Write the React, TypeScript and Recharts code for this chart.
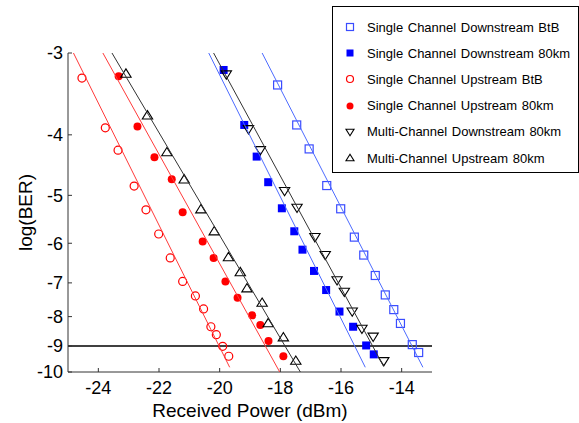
import React from 'react';
import {
  ScatterChart,
  Scatter,
  XAxis,
  YAxis,
  ReferenceLine,
  Legend,
  Label,
} from 'recharts';

// ---------------- data (log10 BER vs received power in dBm) ----------------
const scDownBtbX = [-18.09, -17.46, -17.05, -16.47, -16.01, -15.56, -15.25, -14.87, -14.54, -14.26, -14.04, -13.65, -13.44];
const scDownBtbY = [-3.35, -3.86, -4.21, -4.82, -5.26, -5.86, -6.28, -6.8, -7.34, -7.78, -8.22, -8.95, -9.24];

const scDown80X = [-19.87, -19.19, -18.78, -18.4, -17.95, -17.54, -17.27, -16.89, -16.49, -16.05, -15.6, -15.17, -14.92];
const scDown80Y = [-3.18, -3.86, -4.33, -4.76, -5.25, -5.73, -6.15, -6.68, -7.2, -7.84, -8.33, -8.98, -9.31];

const scUpBtbX = [-24.54, -23.77, -23.35, -22.82, -22.43, -22.01, -21.63, -21.22, -20.8, -20.53, -20.29, -20.11, -19.9, -19.7];
const scUpBtbY = [-3.27, -3.9, -4.23, -4.83, -5.28, -5.79, -6.35, -6.96, -7.37, -7.76, -8.33, -8.6, -9.01, -9.38];

const scUp80X = [-23.33, -22.71, -22.15, -21.58, -21.22, -20.56, -20.2, -19.81, -19.41, -18.93, -18.66, -18.39, -17.9];
const scUp80Y = [-3.25, -3.88, -4.34, -4.71, -5.33, -5.96, -6.35, -6.96, -7.42, -7.96, -8.27, -8.82, -9.38];

const mcDownX = [-19.78, -19.05, -18.66, -17.86, -17.45, -16.86, -16.52, -16.13, -15.89, -15.63, -15.31, -14.94, -14.59];
const mcDownY = [-3.23, -3.92, -4.23, -4.92, -5.24, -5.86, -6.28, -6.93, -7.25, -7.84, -8.4, -8.67, -9.57];

const mcUpX = [-23.09, -22.38, -21.74, -21.17, -20.62, -20.18, -19.71, -19.32, -19.1, -18.6, -18.4, -17.9, -17.49];
const mcUpY = [-3.22, -3.73, -4.26, -4.71, -5.27, -5.73, -6.33, -6.71, -7.15, -7.57, -8.21, -8.69, -9.55];

// fitted lines (end points)
const fitScDownBtbX = [-18.6, -13.3];
const fitScDownBtbY = [-3, -9.81];
const fitScDown80X = [-20.36, -15.2];
const fitScDown80Y = [-3, -9.81];
const fitScUpBtbX = [-24.82, -19.67];
const fitScUpBtbY = [-3, -9.81];
const fitScUp80X = [-23.85, -18.02];
const fitScUp80Y = [-3, -10];
const fitMcDownX = [-20.2, -14.6];
const fitMcDownY = [-3, -9.76];
const fitMcUpX = [-23.55, -17.34];
const fitMcUpY = [-3, -10];

const xTicks = [-24, -22, -20, -18, -16, -14];
const xDomain = [-25, -13];
const yTickLabels = [-3, -4, -5, -6, -7, -8, -9, -10];
const thresholdLog = -9;

const seriesNames = [
  'Single Channel Downstream BtB',
  'Single Channel Downstream 80km',
  'Single Channel Upstream BtB',
  'Single Channel Upstream 80km',
  'Multi-Channel Downstream 80km',
  'Multi-Channel Upstream 80km',
];

// ---------------- BER axis transform (Q-factor, log scale) ----------------
function erfc(x: number): number {
  const z = Math.abs(x);
  const t = 1 / (1 + 0.5 * z);
  const ans =
    t *
    Math.exp(
      -z * z - 1.26551223 +
        t * (1.00002368 + t * (0.37409196 + t * (0.09678418 + t * (-0.18628806 +
        t * (0.27886807 + t * (-1.13520398 + t * (1.48851587 + t * (-0.82215223 + t * 0.17087277))))))))
    );
  return x >= 0 ? ans : 2 - ans;
}
function qFunc(q: number): number {
  return 0.5 * erfc(q / Math.SQRT2);
}
function T(logBer: number): number {
  const target = logBer * Math.LN10;
  let lo = 0.1;
  let hi = 12;
  for (let i = 0; i < 80; i++) {
    const mid = (lo + hi) / 2;
    if (Math.log(qFunc(mid)) > target) lo = mid;
    else hi = mid;
  }
  return Math.log10((lo + hi) / 2);
}

const yTicks = yTickLabels.map(T);
const yFormat = (v: number) => {
  const i = yTicks.findIndex((t) => Math.abs(t - v) < 1e-9);
  return i >= 0 ? String(yTickLabels[i]) : '';
};

const zip = (xs: number[], ys: number[]) => xs.map((x, i) => ({ x, y: T(ys[i]) }));

// ---------------- styles ----------------
const FONT = '"Liberation Sans", Arial, Helvetica, sans-serif';
const BLUE = '#0000ff';
const BLUE_OPEN = '#3a4cff';
const BLUE_LINE = '#4d6bff';
const RED = '#ff0000';
const RED_LINE = '#ff3a3a';
const BLACK = '#000000';
const BLACK_LINE = '#333333';

type MarkerKind = 'openSquare' | 'square' | 'openCircle' | 'circle' | 'downTri' | 'upTri';

const markerOf: Record<string, { kind: MarkerKind; color: string }> = {
  [seriesNames[0]]: { kind: 'openSquare', color: BLUE_OPEN },
  [seriesNames[1]]: { kind: 'square', color: BLUE },
  [seriesNames[2]]: { kind: 'openCircle', color: RED },
  [seriesNames[3]]: { kind: 'circle', color: RED },
  [seriesNames[4]]: { kind: 'downTri', color: BLACK },
  [seriesNames[5]]: { kind: 'upTri', color: BLACK },
};

function drawMarker(kind: MarkerKind, color: string, cx: number, cy: number, s: number) {
  const h = s / 2;
  switch (kind) {
    case 'openSquare':
      return <rect x={cx - h} y={cy - h} width={s} height={s} fill="none" stroke={color} strokeWidth={1.2} />;
    case 'square':
      return <rect x={cx - h} y={cy - h} width={s} height={s} fill={color} stroke="none" />;
    case 'openCircle':
      return <circle cx={cx} cy={cy} r={h} fill="none" stroke={color} strokeWidth={1.2} />;
    case 'circle':
      return <circle cx={cx} cy={cy} r={h} fill={color} stroke="none" />;
    case 'downTri':
      return (
        <polygon
          points={`${cx - h * 1.15},${cy - h * 0.8} ${cx + h * 1.15},${cy - h * 0.8} ${cx},${cy + h * 1.05}`}
          fill="none"
          stroke={color}
          strokeWidth={1.1}
        />
      );
    case 'upTri':
    default:
      return (
        <polygon
          points={`${cx - h * 1.15},${cy + h * 0.8} ${cx + h * 1.15},${cy + h * 0.8} ${cx},${cy - h * 1.05}`}
          fill="none"
          stroke={color}
          strokeWidth={1.1}
        />
      );
  }
}

const makeShape = (name: string, size: number) => (props: any) => {
  const m = markerOf[name];
  return drawMarker(m.kind, m.color, props.cx, props.cy, size);
};

const noShape = () => <g />;

const renderLegend = (props: any) => {
  const present = new Set((props.payload || []).map((p: any) => p.value));
  const names = seriesNames.filter((n) => present.size === 0 || present.has(n));
  return (
    <div
      style={{
        boxSizing: 'border-box',
        width: '100%',
        height: '100%',
        border: '1.5px solid #000',
        background: '#fff',
        paddingTop: 7,
        fontFamily: FONT,
        fontSize: 13,
        color: '#000',
      }}
    >
      {names.map((name) => {
        const m = markerOf[name];
        return (
          <div key={name} style={{ display: 'flex', alignItems: 'center', height: 26.2 }}>
            <svg width={30} height={14} style={{ marginLeft: 2 }}>
              {drawMarker(m.kind, m.color, 15, 7, 7)}
            </svg>
            <span style={{ marginLeft: 2, wordSpacing: 1, whiteSpace: 'nowrap' }}>{name}</span>
          </div>
        );
      })}
    </div>
  );
};

const renderYLabel = (props: any) => {
  const vb = props.viewBox || { x: 0, y: 0, width: 0, height: 0 };
  const cx = vb.x + 25;
  const cy = vb.y + vb.height / 2;
  return (
    <text
      x={cx}
      y={cy}
      transform={`rotate(-90 ${cx} ${cy})`}
      textAnchor="middle"
      dominantBaseline="central"
      fontFamily={FONT}
      fontSize={19}
      fill="#000"
    >
      log(BER)
    </text>
  );
};

export default function App() {
  const tickStyle = { fill: '#000', fontSize: 18, fontFamily: FONT };
  const frame = { stroke: '#333', strokeWidth: 1 };
  const scatterSets = [
    { name: seriesNames[0], data: zip(scDownBtbX, scDownBtbY), size: 8 },
    { name: seriesNames[1], data: zip(scDown80X, scDown80Y), size: 8 },
    { name: seriesNames[2], data: zip(scUpBtbX, scUpBtbY), size: 8 },
    { name: seriesNames[3], data: zip(scUp80X, scUp80Y), size: 8 },
    { name: seriesNames[4], data: zip(mcDownX, mcDownY), size: 9 },
    { name: seriesNames[5], data: zip(mcUpX, mcUpY), size: 9 },
  ];
  const fits = [
    { id: 'f0', data: zip(fitScDownBtbX, fitScDownBtbY), color: BLUE_LINE },
    { id: 'f1', data: zip(fitScDown80X, fitScDown80Y), color: BLUE_LINE },
    { id: 'f2', data: zip(fitScUpBtbX, fitScUpBtbY), color: RED_LINE },
    { id: 'f3', data: zip(fitScUp80X, fitScUp80Y), color: RED_LINE },
    { id: 'f4', data: zip(fitMcDownX, fitMcDownY), color: BLACK_LINE },
    { id: 'f5', data: zip(fitMcUpX, fitMcUpY), color: BLACK_LINE },
  ];
  const yDomain = [T(-3), T(-10)];

  return (
    <div style={{ position: 'absolute', left: 0, top: 0, width: 579, height: 423, background: '#fff' }}>
      <ScatterChart width={579} height={423} margin={{ top: 53, right: 147, bottom: 0, left: 0 }}>
        <XAxis
          dataKey="x"
          type="number"
          domain={xDomain}
          ticks={xTicks}
          interval={0}
          allowDataOverflow
          height={51}
          tickSize={-4}
          tickMargin={13}
          tick={tickStyle}
          axisLine={frame}
          tickLine={frame}
        >
          <Label
            value="Received Power (dBm)"
            position="insideBottom"
            offset={6}
            style={{ fill: '#000', fontSize: 19, fontFamily: FONT }}
          />
        </XAxis>
        <XAxis
          xAxisId="top"
          orientation="top"
          type="number"
          domain={xDomain}
          ticks={xTicks}
          interval={0}
          allowDataOverflow
          height={0}
          tickSize={-4}
          tick={() => <g />}
          axisLine={frame}
          tickLine={frame}
        />
        <YAxis
          dataKey="y"
          type="number"
          reversed
          domain={yDomain}
          ticks={yTicks}
          interval={0}
          allowDataOverflow
          width={68}
          tickSize={-4}
          tickMargin={9}
          tickFormatter={yFormat}
          tick={tickStyle}
          axisLine={frame}
          tickLine={frame}
        >
          <Label content={renderYLabel} />
        </YAxis>
        <YAxis
          yAxisId="right"
          orientation="right"
          type="number"
          reversed
          domain={yDomain}
          ticks={yTicks}
          interval={0}
          allowDataOverflow
          width={0}
          tickSize={-4}
          tick={() => <g />}
          axisLine={frame}
          tickLine={frame}
        />
        <ReferenceLine y={T(thresholdLog)} stroke="#000" strokeWidth={1.5} />
        {scatterSets.map((s) => (
          <Scatter
            key={s.name}
            name={s.name}
            data={s.data}
            shape={makeShape(s.name, s.size)}
            isAnimationActive={false}
          />
        ))}
        {fits.map((f) => (
          <Scatter
            key={f.id}
            name={f.id}
            data={f.data}
            line={{ stroke: f.color, strokeWidth: 1 }}
            shape={noShape}
            legendType="none"
            isAnimationActive={false}
          />
        ))}
        <Legend
          layout="horizontal"
          verticalAlign="middle"
          align="center"
          content={renderLegend}
          wrapperStyle={{ left: 332, top: 6, width: 247, height: 167 }}
        />
      </ScatterChart>
    </div>
  );
}
